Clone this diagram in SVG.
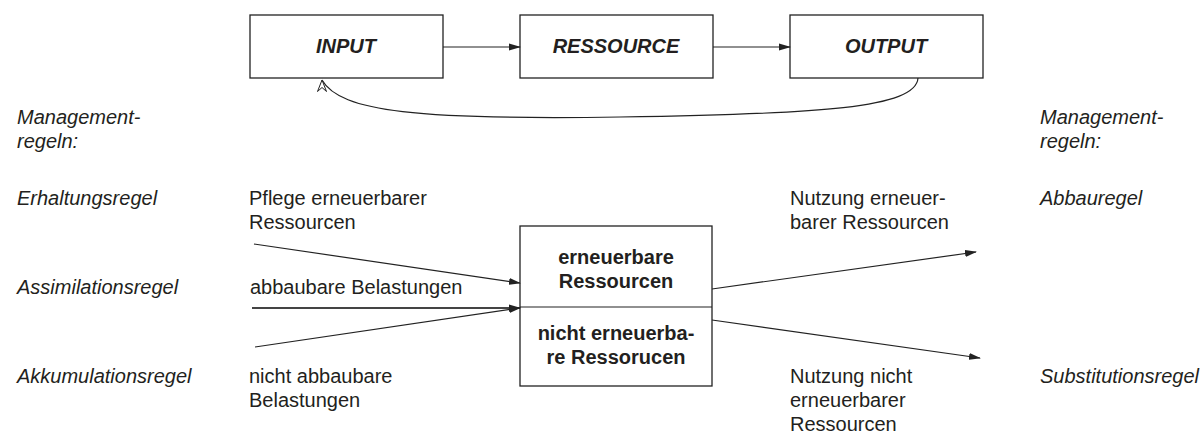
<svg xmlns="http://www.w3.org/2000/svg" width="1204" height="433" viewBox="0 0 1204 433">
<style>
.box{fill:#fff;stroke:#222;stroke-width:1.3}
.ln{fill:none;stroke:#222;stroke-width:1.2}
.t{font-family:"Liberation Sans",Arial,sans-serif;font-size:20px;fill:#231f20}
.i{font-style:italic}
.b{font-weight:bold}
.bi{font-weight:bold;font-style:italic;font-size:20px}
.m{text-anchor:middle}
</style>
<defs>
<marker id="ah" markerWidth="12" markerHeight="8" refX="11" refY="4" orient="auto" markerUnits="userSpaceOnUse">
<path d="M0,0.5 L12,4 L0,7.5 z" fill="#222"/>
</marker>
<marker id="oh" markerWidth="12" markerHeight="14" refX="6" refY="1" orient="0" markerUnits="userSpaceOnUse" viewBox="0 0 12 14">
<path d="M1.5,12.5 L6,1 L10.5,12.5 L6,8.5 z" fill="#fff" stroke="#222" stroke-width="1"/>
</marker>
</defs>
<g id="input"><rect class="box" x="250" y="15" width="193" height="63"/><text class="t bi m" x="346" y="53">INPUT</text></g>
<g id="ressource"><rect class="box" x="520" y="15" width="193" height="63"/><text class="t bi m" x="616" y="53">RESSOURCE</text></g>
<g id="output"><rect class="box" x="790" y="15" width="193" height="63"/><text class="t bi m" x="886" y="53">OUTPUT</text></g>
<g id="center"><rect class="box" x="520" y="226" width="192" height="160"/><line class="ln" x1="520" y1="307" x2="712" y2="307"/>
<text class="t b m" x="616" y="264">erneuerbare</text><text class="t b m" x="616" y="288">Ressourcen</text>
<text class="t b m" x="616" y="340">nicht erneuerba-</text><text class="t b m" x="616" y="364">re Ressorucen</text></g>
<g id="connectors">
<line class="ln" x1="443" y1="47" x2="520" y2="47" marker-end="url(#ah)"/>
<line class="ln" x1="713" y1="47" x2="790" y2="47" marker-end="url(#ah)"/>
<path class="ln" d="M918,78 C916,108 820,114 620,117 C420,120 340,112 322,80" marker-end="url(#oh)"/>
<line class="ln" x1="254" y1="244" x2="520" y2="283" marker-end="url(#ah)"/>
<line class="ln" x1="252" y1="308" x2="520" y2="308" style="stroke-width:1.8;stroke:#444" marker-end="url(#ah)"/>
<line class="ln" x1="255" y1="347" x2="520" y2="308" marker-end="url(#ah)"/>
<line class="ln" x1="712" y1="289" x2="976" y2="252" marker-end="url(#ah)"/>
<line class="ln" x1="712" y1="320" x2="980" y2="358" marker-end="url(#ah)"/>
</g>
<g id="labels-left">
<text class="t i" x="17" y="124">Management-</text><text class="t i" x="17" y="148">regeln:</text>
<text class="t i" x="17" y="205">Erhaltungsregel</text>
<text class="t i" x="17" y="294">Assimilationsregel</text>
<text class="t i" x="17" y="383">Akkumulationsregel</text>
</g>
<g id="labels-right">
<text class="t i" x="1040" y="124">Management-</text><text class="t i" x="1040" y="148">regeln:</text>
<text class="t i" x="1040" y="205">Abbauregel</text>
<text class="t i" x="1040" y="383">Substitutionsregel</text>
</g>
<g id="flow-labels">
<text class="t" x="249" y="205">Pflege erneuerbarer</text><text class="t" x="249" y="229">Ressourcen</text>
<text class="t" x="250" y="294">abbaubare Belastungen</text>
<text class="t" x="249" y="383">nicht abbaubare</text><text class="t" x="249" y="407">Belastungen</text>
<text class="t" x="790" y="205">Nutzung erneuer-</text><text class="t" x="790" y="229">barer Ressourcen</text>
<text class="t" x="790" y="383">Nutzung nicht</text><text class="t" x="790" y="407">erneuerbarer</text><text class="t" x="790" y="431">Ressourcen</text>
</g>
</svg>
